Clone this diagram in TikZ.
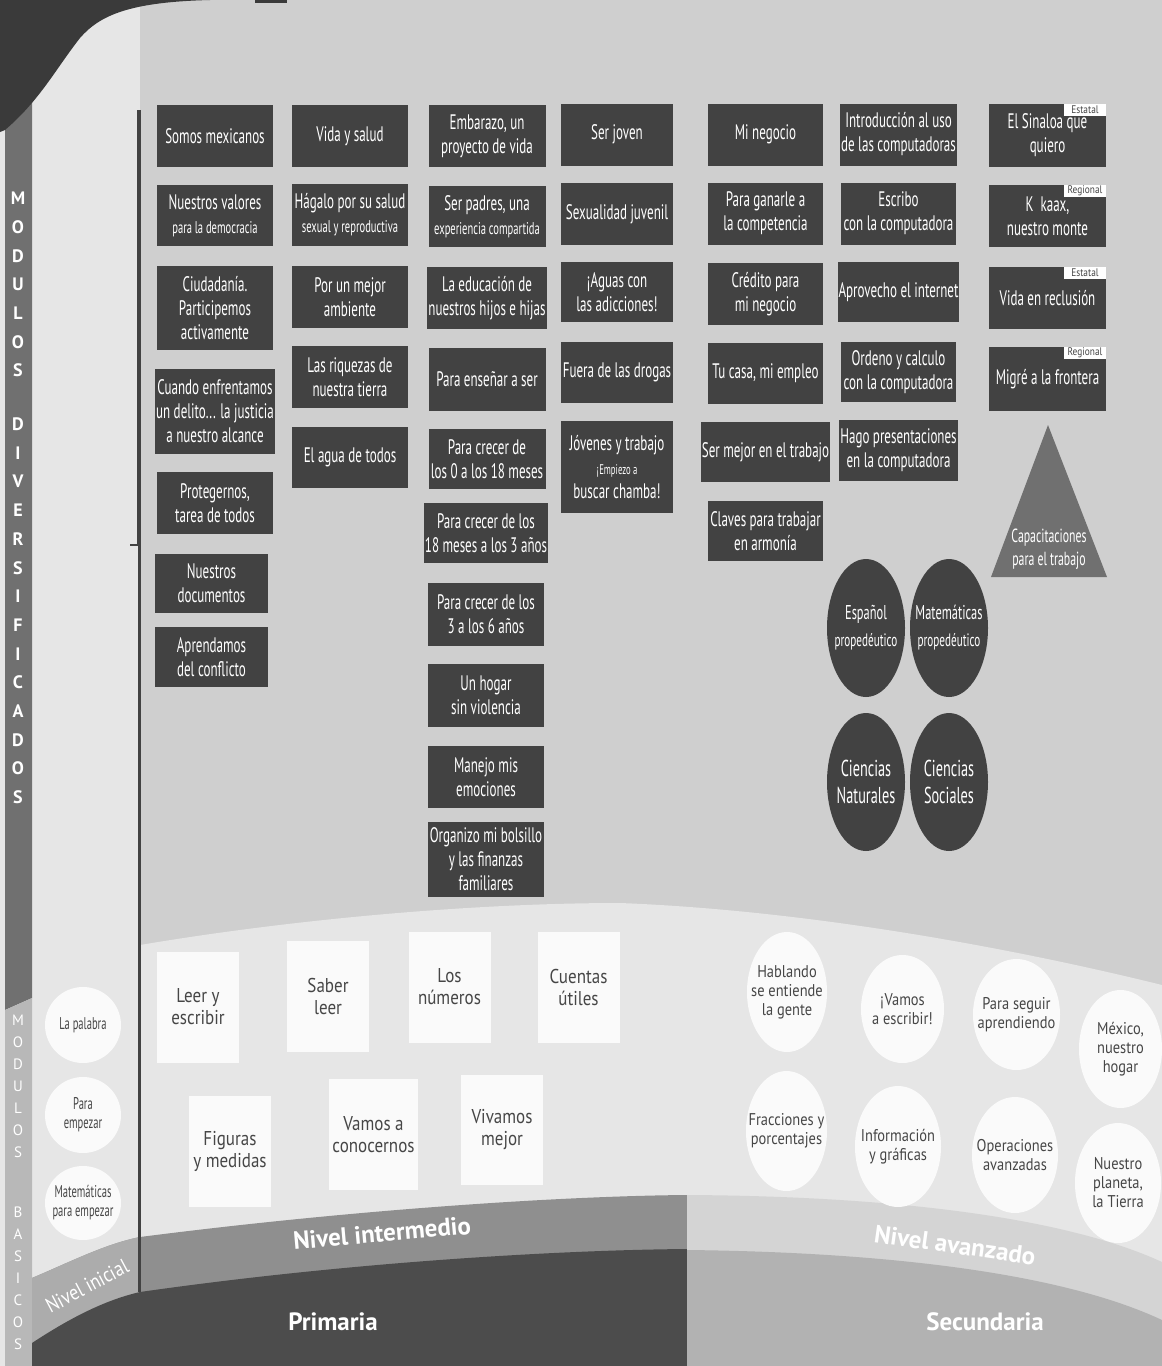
\documentclass[tikz,border=0pt]{standalone}
\usepackage{fontspec}
\setmainfont{PT Sans}
\newfontfamily\narrowfont{PT Sans}[FakeStretch=0.62]
\newfontfamily\plainfont{PT Sans}[FakeStretch=0.85]
\usepackage{tikz}
\usetikzlibrary{shapes.geometric}

\definecolor{maingrey}{RGB}{207,207,207}
\definecolor{palegrey}{RGB}{230,230,230}
\definecolor{boxgrey}{RGB}{66,66,66}
\definecolor{stripgrey}{RGB}{112,112,112}
\definecolor{basicgrey}{RGB}{184,184,184}
\definecolor{topdark}{RGB}{58,58,58}
\definecolor{midband}{RGB}{143,143,143}
\definecolor{iniband}{RGB}{172,172,172}
\definecolor{primdark}{RGB}{76,76,76}
\definecolor{avzband}{RGB}{212,212,212}
\definecolor{secgrey}{RGB}{178,178,178}
\definecolor{trigrey}{RGB}{112,112,112}
\definecolor{cardwhite}{RGB}{250,250,250}
\definecolor{textgrey}{RGB}{70,70,70}

\newcommand\modfont{\narrowfont\fontsize{21}{24}\selectfont}
\newcommand\smallmod{\fontsize{17}{20}\selectfont}
\newcommand\tinymod{\fontsize{14}{16}\selectfont}

\tikzset{
	modbox/.style={fill=boxgrey, text=white, minimum height=62, inner xsep=1, inner ysep=2, align=center, font=\modfont},
	col1/.style={modbox, minimum width=116},
	col2/.style={modbox, minimum width=116},
	col3/.style={modbox, minimum width=117},
	col4/.style={modbox, minimum width=112},
	col5/.style={modbox, minimum width=115},
	col6/.style={modbox, minimum width=115},
	col7/.style={modbox, minimum width=117},
	tag/.style={fill=white, text=textgrey, anchor=north east, minimum width=42, minimum height=12, inner xsep=1, inner ysep=0, font=\plainfont\fontsize{11}{11}\selectfont},
	dcirc/.style={ellipse, fill=boxgrey, text=white, minimum width=78, minimum height=138, inner sep=-14pt, align=center, font=\narrowfont\fontsize{20}{27}\selectfont},
	wcard/.style={fill=cardwhite, text=textgrey, minimum width=82, minimum height=111, align=center, font=\plainfont\fontsize{20}{22}\selectfont},
	wcirc/.style={ellipse, fill=cardwhite, text=textgrey, inner sep=-14pt, align=center, font=\plainfont\fontsize{17}{19}\selectfont},
	lcirc/.style={ellipse, fill=cardwhite, text=textgrey, minimum width=76, minimum height=76, inner sep=-10pt, align=center, font=\narrowfont\fontsize{17}{19}\selectfont},
	bandlabel/.style={text=white, font=\bfseries\fontsize{25}{25}\selectfont}
}

\begin{document}
\begin{tikzpicture}[x=1pt, y=-1pt]
	\useasboundingbox (0,0) rectangle (1162,1366);
	\fill[maingrey] (140,0) rectangle (1162,1366);
	\fill[palegrey] (0,0) rectangle (140,1366);
	\fill[stripgrey] (5,100) -- (32,100) -- (32,998) -- (5,1010) -- cycle;
	\fill[basicgrey] (5,1010) -- (32,998) -- (32,1366) -- (5,1366) -- cycle;
	\fill[topdark] (0,0) -- (210,0) .. controls (130,2) and (100,15) .. (80,38) .. controls (55,70) and (40,100) .. (5,130) -- (0,132) -- cycle;
	\fill[topdark] (255,0) rectangle (287,3);
	\fill[palegrey] (140,945) .. controls (300,918) and (480,903) .. (620,903) .. controls (800,910) and (1000,945) .. (1162,985) -- (1162,1366) -- (140,1366) -- cycle;
	\fill[midband] (32,1278) .. controls (70,1262) and (105,1244) .. (140,1237) .. controls (350,1210) and (560,1196) .. (687,1195) -- (687,1366) -- (32,1366) -- cycle;
	\fill[iniband] (32,1278) .. controls (70,1262) and (105,1244) .. (140,1237) -- (140,1366) -- (32,1366) -- cycle;
	\fill[primdark] (32,1343) .. controls (70,1318) and (105,1300) .. (140,1292) .. controls (350,1262) and (560,1250) .. (687,1249) -- (687,1366) -- (32,1366) -- cycle;
	\fill[avzband] (687,1195) .. controls (880,1196) and (1060,1215) .. (1162,1262) -- (1162,1366) -- (687,1366) -- cycle;
	\fill[secgrey] (687,1250) .. controls (880,1252) and (1060,1272) .. (1162,1320) -- (1162,1366) -- (687,1366) -- cycle;
	\draw[boxgrey, line width=4] (139,110) -- (139,545);
	\draw[boxgrey, line width=2] (130,545) -- (139,545);
	\draw[boxgrey, line width=3] (139,545) -- (139,1292);

	\node[text=white, align=center, inner sep=0, font=\bfseries\fontsize{18}{28.7}\selectfont] (diversif) at (18,498) {M\\O\\D\\U\\L\\O\\S\\[25pt]D\\I\\V\\E\\R\\S\\I\\F\\I\\C\\A\\D\\O\\S};
	\node[text=white, align=center, inner sep=0, font=\fontsize{15}{22}\selectfont] (basicos) at (18,1182) {M\\O\\D\\U\\L\\O\\S\\[38pt]B\\A\\S\\I\\C\\O\\S};

	\node[col1] (somos) at (215,136) {Somos mexicanos};
	\node[col1, minimum height=61] (valores) at (215,215.5) {Nuestros valores\\{\smallmod para la democracia}};
	\node[col1, minimum height=84] (ciudadania) at (215,308) {Ciudadanía.\\Participemos\\activamente};
	\node[col1, minimum height=85] (delito) at (215,411.5) {Cuando enfrentamos\\un delito... la justicia\\a nuestro alcance};
	\node[col1] (protegernos) at (215,503) {Protegernos,\\tarea de todos};
	\node[col1, minimum width=113, minimum height=59] (documentos) at (211.5,583.5) {Nuestros\\documentos};
	\node[col1, minimum width=113, minimum height=60] (conflicto) at (211.5,657) {Aprendamos\\del conflicto};

	\node[col2] (vida) at (350,136) {Vida y salud};
	\node[col2] (hagalo) at (350,215) {Hágalo por su salud\\{\smallmod sexual y reproductiva}};
	\node[col2] (ambiente) at (350,297) {Por un mejor\\ambiente};
	\node[col2] (riquezas) at (350,377) {Las riquezas de\\nuestra tierra};
	\node[col2, minimum height=61] (agua) at (350,457.5) {El agua de todos};

	\node[col3] (embarazo) at (487,136) {Embarazo, un\\proyecto de vida};
	\node[col3, minimum height=61] (padres) at (487,216.5) {Ser padres, una\\{\smallmod experiencia compartida}};
	\node[col3] (educacion) at (487,298) {La educación de\\nuestros hijos e hijas};
	\node[col3, minimum height=63] (ensenar) at (487,379.5) {Para enseñar a ser};
	\node[col3, minimum height=60] (crecera) at (487,459) {Para crecer de\\los 0 a los 18 meses};
	\node[col3, minimum width=116, minimum height=60] (crecerb) at (486,533) {Para crecer de los\\18 meses a los 3 años};
	\node[col3, minimum width=116, minimum height=63] (crecerc) at (486,614.5) {Para crecer de los\\3 a los 6 años};
	\node[col3, minimum width=116, minimum height=63] (hogar) at (486,695.5) {Un hogar\\sin violencia};
	\node[col3, minimum width=116] (emociones) at (486,777) {Manejo mis\\emociones};
	\node[col3, minimum width=116, minimum height=75] (bolsillo) at (486,859.5) {Organizo mi bolsillo\\y las finanzas\\familiares};

	\node[col4] (joven) at (617,134.5) {Ser joven};
	\node[col4] (sexualidad) at (617,214) {Sexualidad juvenil};
	\node[col4, minimum height=60] (aguas) at (617,292) {¡Aguas con\\las adicciones!};
	\node[col4, minimum height=61] (drogas) at (617,372.5) {Fuera de las drogas};
	\node[col4, minimum height=92] (jovenes) at (617,467) {Jóvenes y trabajo\\{\tinymod ¡Empiezo a}\\buscar chamba!};

	\node[col5] (negocio) at (765.5,134.5) {Mi negocio};
	\node[col5] (competencia) at (765.5,213.5) {Para ganarle a\\la competencia};
	\node[col5] (credito) at (765.5,294) {Crédito para\\mi negocio};
	\node[col5, minimum height=61] (empleo) at (765.5,373.5) {Tu casa, mi empleo};
	\node[col5, minimum height=60] (mejor) at (765.5,452) {Ser mejor en el trabajo};
	\node[col5, minimum height=60] (armonia) at (765.5,531) {Claves para trabajar\\en armonía};

	\node[col6] (intro) at (898.5,134.5) {Introducción al uso\\de las computadoras};
	\node[col6] (escribo) at (898.5,213.5) {Escribo\\con la computadora};
	\node[col6, minimum height=60] (internet) at (898.5,292) {Aprovecho el internet};
	\node[col6, minimum height=60] (ordeno) at (898.5,372) {Ordeno y calculo\\con la computadora};
	\node[col6, minimum height=61] (presenta) at (898.5,450.5) {Hago presentaciones\\en la computadora};

	\node[col7, minimum height=63] (sinaloa) at (1047.5,135.5) {El Sinaloa que\\quiero};
	\node[col7] (kaax) at (1047.5,216) {K~~kaax,\\nuestro monte};
	\node[col7] (reclusion) at (1047.5,298) {Vida en reclusión};
	\node[col7, minimum height=64] (frontera) at (1047.5,379) {Migré a la frontera};
	\node[tag] (tagsinaloa) at (sinaloa.north east) {Estatal};
	\node[tag] (tagkaax) at (kaax.north east) {Regional};
	\node[tag] (tagreclusion) at (reclusion.north east) {Estatal};
	\node[tag] (tagfrontera) at (frontera.north east) {Regional};

	\fill[trigrey] (1048,425) -- (1107,577) -- (991,577) -- cycle;
	\node[text=white, align=center, font=\narrowfont\fontsize{19}{23}\selectfont] (capacit) at (1049,549) {Capacitaciones\\para el trabajo};

	\node[dcirc] (espanol) at (866,628) {Español\\{\fontsize{18}{20}\selectfont propedéutico}};
	\node[dcirc] (matematicas) at (949,628) {Matemáticas\\{\fontsize{18}{20}\selectfont propedéutico}};
	\node[dcirc, font=\narrowfont\fontsize{23}{27}\selectfont] (naturales) at (866,782) {Ciencias\\Naturales};
	\node[dcirc, font=\narrowfont\fontsize{23}{27}\selectfont] (sociales) at (949,782) {Ciencias\\Sociales};

	\node[lcirc] (palabra) at (83,1025) {La palabra};
	\node[lcirc] (empezar) at (83,1115) {Para\\empezar};
	\node[lcirc, minimum height=74] (matinicial) at (83,1203) {Matemáticas\\para empezar};

	\node[wcard] (leer) at (198,1007) {Leer y\\escribir};
	\node[wcard] (saber) at (328,996.5) {Saber\\leer};
	\node[wcard] (numeros) at (449.5,987) {Los\\números};
	\node[wcard] (cuentas) at (578.5,987.5) {Cuentas\\útiles};
	\node[wcard] (figuras) at (230,1151.5) {Figuras\\y medidas};
	\node[wcard] (conocernos) at (373.5,1134.5) {Vamos a\\conocernos};
	\node[wcard, minimum height=110] (vivamos) at (502,1130) {Vivamos\\mejor};

	\node[wcirc, minimum width=80, minimum height=120] (hablando) at (787,992) {Hablando\\se entiende\\la gente};
	\node[wcirc, minimum width=83, minimum height=108] (vamos) at (902.5,1009) {¡Vamos\\a escribir!};
	\node[wcirc, minimum width=87, minimum height=111] (seguir) at (1016.5,1014.5) {Para seguir\\aprendiendo};
	\node[wcirc, minimum width=83, minimum height=118] (mexico) at (1120.5,1049) {México,\\nuestro\\hogar};
	\node[wcirc, minimum width=81, minimum height=120] (fracciones) at (786.5,1131) {Fracciones y\\porcentajes};
	\node[wcirc, minimum width=86, minimum height=121] (informacion) at (898,1146.5) {Información\\y gráficas};
	\node[wcirc, minimum width=86, minimum height=116] (operaciones) at (1015,1155) {Operaciones\\avanzadas};
	\node[wcirc, minimum width=86, minimum height=120] (planeta) at (1118,1183) {Nuestro\\planeta,\\la Tierra};

	\node[text=white, rotate=28, inner sep=0, font=\plainfont\fontsize{21}{21}\selectfont] (inicial) at (87,1286) {Nivel inicial};
	\node[bandlabel, rotate=5] (intermedio) at (382,1233) {Nivel intermedio};
	\node[bandlabel] (primaria) at (333,1322) {Primaria};
	\node[bandlabel, rotate=-8] (avanzado) at (955,1245) {Nivel avanzado};
	\node[bandlabel] (secundaria) at (985,1322) {Secundaria};
\end{tikzpicture}
\end{document}
